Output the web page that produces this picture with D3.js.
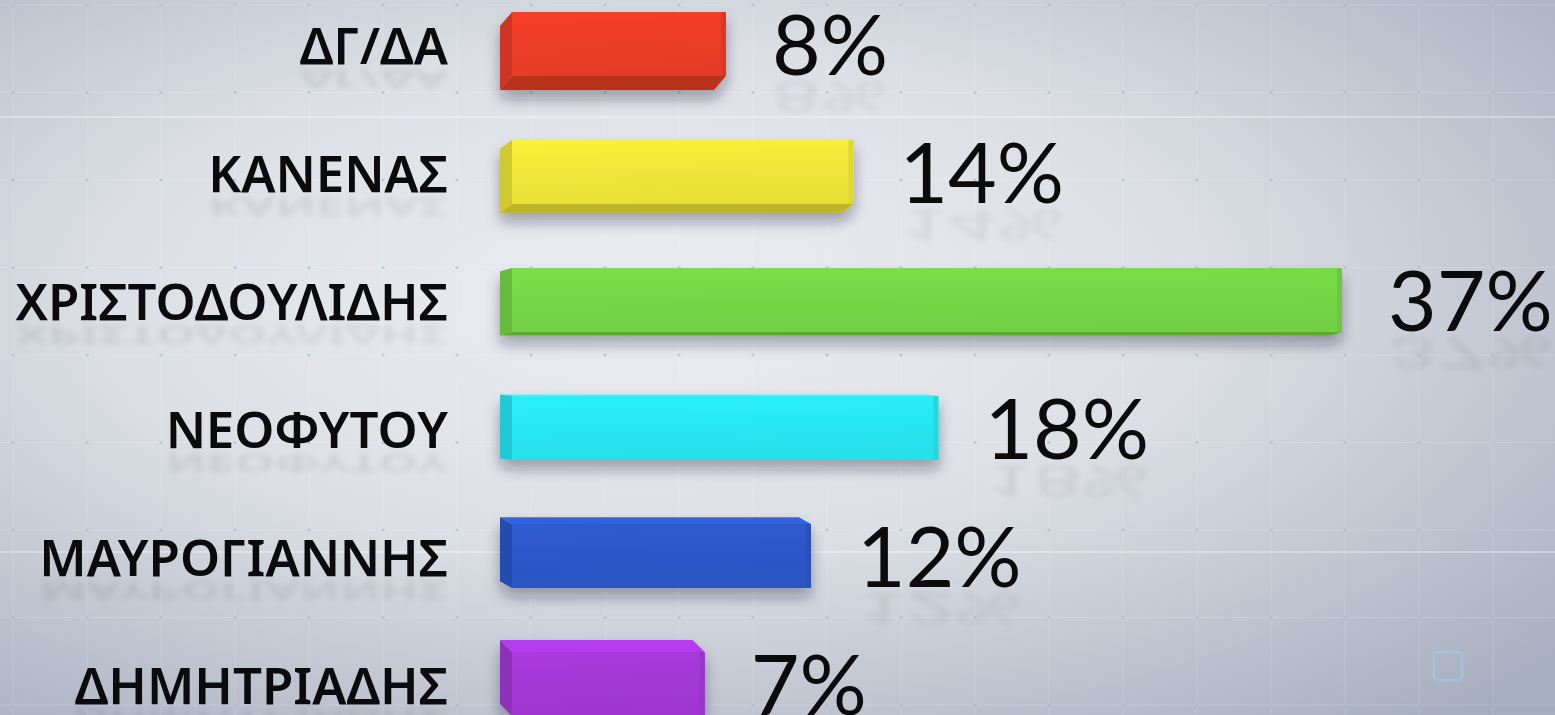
<!DOCTYPE html>
<html lang="el">
<head>
<meta charset="UTF-8">
<title>Δημοσκόπηση</title>
<style>
  html, body { margin: 0; padding: 0; overflow: hidden; background: #d9dce2; }
  svg { display: block; }
</style>
</head>
<body>
<div id="chart"></div>
<script src="https://d3js.org/d3.v7.min.js"></script>
<script>
const candidates = ['ΔΓ/ΔΑ', 'ΚΑΝΕΝΑΣ', 'ΧΡΙΣΤΟΔΟΥΛΙΔΗΣ', 'ΝΕΟΦΥΤΟΥ', 'ΜΑΥΡΟΓΙΑΝΝΗΣ', 'ΔΗΜΗΤΡΙΑΔΗΣ'];
const percentages = [8, 14, 37, 18, 12, 7];
const barColors = ['#e53b26', '#e9e036', '#72d043', '#27e0ea', '#2b55c2', '#9e36cf'];

const W = 1555, H = 715;
const rows = candidates.map((name, i) => ({ name, value: percentages[i], color: barColors[i], i }));

const svg = d3.select('#chart').append('svg')
    .attr('width', W)
    .attr('height', H);

const defs = svg.append('defs');

// background gradient (light centre, bluish grey edges)
const bg = defs.append('radialGradient').attr('id', 'bg')
    .attr('cx', 0.42).attr('cy', 0.42).attr('r', 0.78);
bg.append('stop').attr('offset', 0).attr('stop-color', '#eceef2');
bg.append('stop').attr('offset', 0.45).attr('stop-color', '#dcdfe5');
bg.append('stop').attr('offset', 1).attr('stop-color', '#a6adbe');

const shadow = defs.append('filter').attr('id', 'shadow')
    .attr('x', -0.1).attr('y', -0.3).attr('width', 1.2).attr('height', 1.8);
shadow.append('feDropShadow').attr('dx', 0).attr('dy', 9)
    .attr('stdDeviation', 7).attr('flood-color', '#1c2230').attr('flood-opacity', 0.35);

const blur = defs.append('filter').attr('id', 'blur');
blur.append('feGaussianBlur').attr('stdDeviation', 3);

svg.append('rect').attr('width', W).attr('height', H).attr('fill', 'url(#bg)');

// faint grid with dots at the crossings
const grid = svg.append('g');
const gx = d3.range(13, W, 74), gy = d3.range(5, H, 87.5);
grid.selectAll('line.v').data(gx).join('line')
    .attr('x1', d => d).attr('x2', d => d).attr('y1', 0).attr('y2', H)
    .attr('stroke', '#ffffff').attr('stroke-opacity', 0.16);
grid.selectAll('line.h').data(gy).join('line')
    .attr('y1', d => d).attr('y2', d => d).attr('x1', 0).attr('x2', W)
    .attr('stroke', '#ffffff').attr('stroke-opacity', 0.18);
grid.selectAll('line.hl').data([117, 552]).join('line')
    .attr('y1', d => d).attr('y2', d => d).attr('x1', 0).attr('x2', W)
    .attr('stroke', '#ffffff').attr('stroke-opacity', 0.45).attr('stroke-width', 1.5);
grid.selectAll('circle').data(d3.cross(gx, gy)).join('circle')
    .attr('cx', d => d[0]).attr('cy', d => d[1]).attr('r', 1.6)
    .attr('fill', '#8fb6d2').attr('opacity', 0.55);

// watermark
svg.append('rect').attr('x', 1434).attr('y', 652).attr('width', 28).attr('height', 28).attr('rx', 4)
    .attr('fill', 'none').attr('stroke', '#a9c9ee').attr('stroke-width', 3).attr('opacity', 0.5);

// scales
const y = d3.scaleBand().domain(candidates).range([-20, 748])
    .paddingInner(0.5).paddingOuter(0.25);
const x = d3.scaleLinear().domain([0, 37]).range([556, 1342]);
const barLeft = 500, side = 12;
// perspective: top rows show their underside, bottom rows their top
const tilt = d3.scaleLinear().domain([0, candidates.length - 1]).range([14, -12]);

// per-bar front gradient
rows.forEach(d => {
    const g = defs.append('linearGradient').attr('id', 'grad' + d.i)
        .attr('x1', 0).attr('y1', 0).attr('x2', 0.15).attr('y2', 1);
    g.append('stop').attr('offset', 0).attr('stop-color', d3.color(d.color).brighter(0.2));
    g.append('stop').attr('offset', 0.55).attr('stop-color', d3.color(d.color).brighter(0.08));
    g.append('stop').attr('offset', 1).attr('stop-color', d.color);
});

const bars = svg.append('g').selectAll('g').data(rows).join('g')
    .attr('filter', 'url(#shadow)');

bars.each(function (d) {
    const g = d3.select(this);
    const yT = y(d.name), yB = yT + y.bandwidth();
    const x0 = barLeft, x1 = x(d.value), t = tilt(d.i);
    const c = d3.color(d.color);
    // bottom or top face
    if (t > 0) {
        g.append('polygon')
            .attr('points', [[x0 + side, yB], [x1, yB], [x1 - side, yB + t], [x0, yB + t]].join(' '))
            .attr('fill', c.darker(0.6));
    } else {
        g.append('polygon')
            .attr('points', [[x0 + side, yT], [x1, yT], [x1 - side, yT + t], [x0, yT + t]].join(' '))
            .attr('fill', c.brighter(0.4));
    }
    // left end face
    g.append('polygon')
        .attr('points', [[x0 + side, yT], [x0, yT + t], [x0, yB + t], [x0 + side, yB]].join(' '))
        .attr('fill', c.darker(0.3));
    // front face
    g.append('rect')
        .attr('x', x0 + side).attr('y', yT)
        .attr('width', x1 - x0 - side).attr('height', y.bandwidth())
        .attr('fill', 'url(#grad' + d.i + ')');
    // thin right end shade
    g.append('rect')
        .attr('x', x1 - 5).attr('y', yT).attr('width', 5).attr('height', y.bandwidth())
        .attr('fill', c.darker(0.12));
});

// category labels with faint reflections
const labelFont = '"Noto Sans", "Open Sans", sans-serif';
const labelSize = 51, labelCap = labelSize * 0.714;
const labelBase = d => y(d.name) + y.bandwidth() / 2 + labelCap / 2 + 2;

const refl = svg.append('g').attr('filter', 'url(#blur)').attr('opacity', 0.08);
refl.selectAll('text').data(rows).join('text')
    .attr('transform', d => `translate(0,${labelBase(d) + 6}) scale(1,-0.5)`)
    .attr('x', 448).attr('y', 0)
    .attr('text-anchor', 'end')
    .style('font-family', labelFont).style('font-weight', 600).style('font-size', labelSize + 'px')
    .attr('fill', '#000')
    .text(d => d.name);

svg.append('g').selectAll('text').data(rows).join('text')
    .attr('x', 448).attr('y', labelBase)
    .attr('text-anchor', 'end')
    .style('font-family', labelFont).style('font-weight', 600).style('font-size', labelSize + 'px')
    .attr('fill', '#0b0b0d')
    .text(d => d.name);

// value labels
const valueFont = 'Lato, Roboto, sans-serif';
const valueSize = 84, valueCap = valueSize * 0.72;
const valueBase = d => y(d.name) + y.bandwidth() / 2 + valueCap / 2 + 1;
const valueX = d => x(d.value) + 46;

const vrefl = svg.append('g').attr('filter', 'url(#blur)').attr('opacity', 0.07);
vrefl.selectAll('text').data(rows).join('text')
    .attr('transform', d => `translate(0,${valueBase(d) + 6}) scale(1,-0.5)`)
    .attr('x', valueX).attr('y', 0)
    .style('font-family', valueFont).style('font-weight', 400).style('font-size', valueSize + 'px')
    .attr('fill', '#000')
    .text(d => d.value + '%');

svg.append('g').selectAll('text').data(rows).join('text')
    .attr('x', valueX).attr('y', valueBase)
    .style('font-family', valueFont).style('font-weight', 400).style('font-size', valueSize + 'px')
    .attr('fill', '#0b0b0d')
    .text(d => d.value + '%');
</script>
</body>
</html>
